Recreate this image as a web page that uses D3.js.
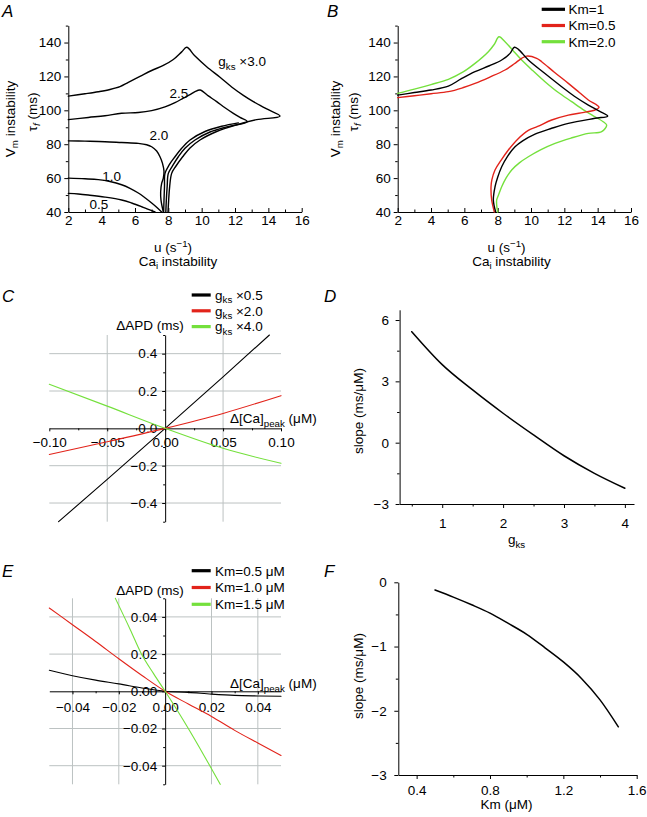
<!DOCTYPE html>
<html><head><meta charset="utf-8">
<script src="https://cdn.jsdelivr.net/npm/d3@7"></script>
<style>body{margin:0;background:#fff}</style>
</head><body><svg id="c" width="647" height="817"></svg>
<script>
// ---------------- DATA ----------------
// Panel A: stability boundaries (u, tau_f) for gks multipliers
const aCurve30 = [[2,108.4],[3,109.8],[3.8,111],[4.5,112.3],[5.1,114],[5.6,116.5],[6.3,120],[7,123.5],[7.7,126.5],[8.3,130],[8.8,134.5],[9.1,137.2],[9.6,132],[10.3,125.7],[11.1,119.5],[11.9,113],[12.5,108.8],[13.1,105.1],[13.9,100.8],[14.7,96.6],[13.3,94.5],[12.0,91.2],[10.9,87.5],[9.9,82.5],[9.3,77.8],[8.86,72.6],[8.45,67],[8.2,62.8],[8.08,55],[8.02,47],[7.98,40]];
const aCurve25 = [[2,94.5],[3.2,95.8],[4.2,96.8],[5.2,98.3],[6.2,98.7],[7.0,99.8],[7.8,102],[8.4,104.5],[8.9,107.2],[9.3,109.3],[9.6,111],[9.9,112],[10.4,108.5],[10.9,105.1],[11.4,101.5],[11.9,98.2],[12.3,95.8],[12.74,93.3],[11.5,90.2],[10.5,87.2],[9.6,82.5],[9.0,77.6],[8.6,72.6],[8.25,67.2],[8.0,62.8],[7.93,55],[7.88,47],[7.85,40]];
const aCurve20L = [[2,82],[3,81.8],[4.2,81.5],[5.2,81],[6.2,80.5],[6.7,79.7],[7.0,78.5],[7.3,76],[7.5,72.6],[7.65,68.7],[7.74,64],[7.7,60],[7.6,56.9],[7.54,52],[7.56,47],[7.7,40]];
const aCurve20R = [[7.72,40],[7.74,47],[7.77,55],[7.8,62.8],[8.05,67.8],[8.4,72.6],[8.8,77.6],[9.3,82.5],[10.2,87.5],[11.2,90.6],[12.2,92.6]];
const aCurve10 = [[2,60],[3,59.6],[3.8,59.1],[4.5,58],[5.2,56.1],[5.7,54],[6.2,51.2],[6.6,48.4],[7.0,45.3],[7.3,42.8],[7.6,40]];
const aCurve05 = [[2,51],[2.6,50.6],[3.2,50],[4.2,48.8],[5.2,47.1],[5.8,45.3],[6.4,43.1],[6.8,41.5],[7.2,40]];
const aLabels = ["3.0","2.5","2.0","1.0","0.5"];

// Panel B: boundaries for different Km
const bKm1 = [[2,109],[3,110.5],[4,112],[5.04,114.3],[5.8,118.5],[6.64,122.8],[7.5,126.3],[8.24,129.7],[8.74,133.6],[9.0,137.2],[9.24,136],[9.84,129.7],[10.8,122],[11.84,113.9],[12.6,108.3],[13.44,103.1],[14.1,99.5],[14.6,96.6],[13.84,95.3],[12.24,92.3],[11.24,89.4],[10.24,86.0],[9.5,82],[9.04,78.5],[8.6,73],[8.24,66.7],[8.0,60.5],[7.84,54.9],[7.74,47.1],[7.88,40]];
const bKm05 = [[2,107.5],[3,108.6],[4,109.8],[5.04,111],[5.9,113.3],[6.64,115.9],[7.5,119.5],[8.44,123.8],[9.0,127.5],[9.44,130.7],[9.74,132],[10.34,130.7],[10.64,128.7],[11.4,122.5],[12.24,115.9],[12.9,110.5],[13.44,106.1],[14.08,101.8],[13.84,100.2],[13.0,98.5],[12.24,97.2],[11.24,94.3],[10.4,90.5],[9.84,88.2],[9.2,83],[8.64,76.6],[8.2,70.5],[7.84,64.8],[7.65,59],[7.6,54.9],[7.64,47.1],[7.8,40]];
const bKm20 = [[2,110],[3,112.5],[4,115.2],[5.04,118.3],[5.9,122.5],[6.64,127.7],[7.44,134.6],[7.8,139],[8.08,143.4],[8.44,140.5],[8.9,135.5],[9.44,129.7],[10.1,123.5],[10.84,116.9],[11.6,110.8],[12.44,105.1],[13.2,100],[13.84,96.2],[14.33,93.3],[14.54,91.3],[14.24,87.4],[13.44,86.4],[12.4,83.6],[11.44,80.5],[10.6,76.8],[9.84,72.6],[9.3,69],[8.84,64.8],[8.5,60],[8.24,54.9],[8.05,50],[7.94,47.1],[7.95,43],[8.0,40]];
const bLegend = ["Km=1","Km=0.5","Km=2.0"];

// Panel C: dAPD vs d[Ca]peak
const cBlack = [[-0.092,-0.5],[-0.05,-0.273],[0,0],[0.05,0.276],[0.09,0.5]];
const cRed   = [[-0.1,-0.14],[-0.05,-0.072],[0,0],[0.05,0.08],[0.1,0.175]];
const cGreen = [[-0.1,0.236],[-0.05,0.119],[0,0],[0.05,-0.107],[0.1,-0.187]];
const cLegend = ["0.5","2.0","4.0"];

// Panel D: slope vs gks
const dGks   = [0.5,1,1.5,2,2.5,3,3.5,4];
const dSlope = [5.43,3.82,2.58,1.44,0.38,-0.64,-1.50,-2.23];

// Panel E: dAPD vs d[Ca]peak for Km
const eBlack = [[-0.05,0.0113],[-0.04,0.0084],[-0.03,0.006],[-0.02,0.004],[-0.01,0.0018],[0,0],[0.01,-0.0006],[0.02,-0.0015],[0.03,-0.0022],[0.04,-0.0025],[0.05,-0.0027]];
const eRed   = [[-0.05,0.0448],[-0.04,0.0358],[-0.03,0.0268],[-0.02,0.0175],[-0.01,0.0085],[0,0],[0.01,-0.0068],[0.02,-0.0135],[0.03,-0.021],[0.04,-0.0278],[0.05,-0.0345]];
const eGreen = [[-0.0215,0.05],[-0.015,0.033],[-0.0104,0.0205],[-0.005,0.0095],[0,0],[0.005,-0.0098],[0.01,-0.02],[0.017,-0.035],[0.0238,-0.05]];
const eLegend = ["Km=0.5 μM","Km=1.0 μM","Km=1.5 μM"];

// Panel F: slope vs Km
const fKm    = [0.5,0.6,0.7,0.8,0.9,1.0,1.1,1.2,1.3,1.4,1.5];
const fSlope = [-0.12,-0.23,-0.35,-0.48,-0.64,-0.81,-1.02,-1.24,-1.50,-1.83,-2.25];

// Ticks
const abXTicks=[2,4,6,8,10,12,14,16], abXMinor=[3,5,7,9,11,13,15];
const abYTicks=[40,60,80,100,120,140], abYMinor=[50,70,90,110,130,150];
const cXTicks=[-0.1,-0.05,0,0.05,0.1], cXMinor=[-0.075,-0.025,0.025,0.075];
const cYTicks=[-0.4,-0.2,0,0.2,0.4], cYMinor=[-0.5,-0.3,-0.1,0.1,0.3,0.5];
const dXTicks=[1,2,3,4], dXMinor=[0.5,1.5,2.5,3.5];
const dYTicks=[-3,0,3,6], dYMinor=[-1.5,1.5,4.5];
const eXTicks=[-0.04,-0.02,0,0.02,0.04], eXMinor=[-0.03,-0.01,0.01,0.03];
const eYTicks=[-0.04,-0.02,0,0.02,0.04], eYMinor=[-0.05,-0.03,-0.01,0.01,0.03,0.05];
const fXTicks=[0.4,0.8,1.2,1.6], fXMinor=[0.6,1.0,1.4];
const fYTicks=[-3,-2,-1,0], fYMinor=[-2.5,-1.5,-0.5];

const COLORS = ["#000000","#e2231a","#74e03c"];

// ---------------- DRAW ----------------
const FONT='"Liberation Sans", Arial, Helvetica, sans-serif';
const FS=13.5;
const svg=d3.select("#c");
svg.append("rect").attr("width",647).attr("height",817).attr("fill","#fff");

function styleAxis(g){
  g.attr("font-family",FONT).attr("font-size",FS);
  g.selectAll("path,line").attr("stroke","#000").attr("stroke-width",1);
  g.selectAll("text").attr("fill","#000");
  return g;
}
function addAxis(gen,tx,ty,minor){
  const g=svg.append("g").attr("transform",`translate(${tx},${ty})`).call(gen);
  if(minor) g.select(".domain").remove();
  return styleAxis(g);
}
function rich(x,y,parts,opts={}){
  const size=opts.size||FS;
  const t=svg.append("text").attr("x",x).attr("y",y).attr("font-family",FONT)
    .attr("font-size",size).attr("text-anchor",opts.anchor||"start").attr("fill","#000");
  if(opts.rotate) t.attr("transform",`rotate(-90,${x},${y})`);
  if(opts.italic) t.attr("font-style","italic");
  let shift=0;
  parts.forEach(p=>{
    const [s,kind,ital]=(typeof p==="string")?[p,null,false]:p;
    const ts=t.append("tspan").text(s);
    const target=kind==="sub"?3.5:kind==="sup"?-5:0;
    const dy=target-shift; if(dy!==0) ts.attr("dy",dy); shift=target;
    if(kind) ts.attr("font-size",size*0.72);
    if(ital) ts.attr("font-style","italic");
  });
  return t;
}
function drawPath(data,x,y,color,w,curve){
  svg.append("path").datum(data)
    .attr("d",d3.line().x(d=>x(d[0])).y(d=>y(d[1])).curve(curve||d3.curveLinear))
    .attr("fill","none").attr("stroke",color).attr("stroke-width",w)
    .attr("stroke-linejoin","round").attr("stroke-linecap","round");
}
const CR=d3.curveCatmullRom.alpha(0.5);

// ---- Panel A ----
const xA=d3.scaleLinear([2,16],[68.3,301.7]);
const yA=d3.scaleLinear([40,150],[212,25.6]);
function abAxes(x,y){
  addAxis(d3.axisBottom(x).tickValues(abXTicks).tickSize(-4).tickPadding(3).tickSizeOuter(0),0,y(40));
  addAxis(d3.axisBottom(x).tickValues(abXMinor).tickSize(-2.5).tickFormat(""),0,y(40),true);
  addAxis(d3.axisLeft(y).tickValues(abYTicks).tickSize(4).tickPadding(3).tickSizeOuter(0),x(2),0);
  addAxis(d3.axisLeft(y).tickValues(abYMinor).tickSize(2.5).tickFormat(""),x(2),0,true);
}
abAxes(xA,yA);
[aCurve30,aCurve25,aCurve20L,aCurve20R,aCurve10,aCurve05].forEach(c=>drawPath(c,xA,yA,"#000",1.4,CR));
rich(xA(11.0),yA(126),[["g"],["ks","sub"],[" ×"+aLabels[0]]]);
rich(xA(8.64),yA(107),[aLabels[1]],{anchor:"middle"});
rich(xA(7.44),yA(82.3),[aLabels[2]],{anchor:"middle"});
rich(xA(4.6),yA(58.5),[aLabels[3]],{anchor:"middle"});
rich(xA(3.84),yA(42),[aLabels[4]],{anchor:"middle"});
function abLabels(x0,yl1,yl2){
  rich(yl1,119,[["V"],["m","sub"],[" instability"]],{anchor:"middle",rotate:true});
  rich(yl2,112,[["τ"],["f","sub",true],[" (ms)"]],{anchor:"middle",rotate:true});
  rich(x0,251.5,[["u (s"],["−1","sup"],[")"]],{anchor:"middle"});
  rich(x0+5,265.5,[["Ca"],["i","sub"],[" instability"]],{anchor:"middle"});
}
abLabels(173,14.5,36.5);
rich(2,16.7,["A"],{size:17,italic:true});

// ---- Panel B ----
const xB=d3.scaleLinear([2,16],[397.7,631]);
const yB=d3.scaleLinear([40,150],[212,25.6]);
abAxes(xB,yB);
[[bKm20,2],[bKm05,1],[bKm1,0]].forEach(([c,i])=>drawPath(c,xB,yB,COLORS[i],1.4,CR));
bLegend.forEach((s,i)=>{
  const yy=9.3+i*16.2;
  svg.append("line").attr("x1",541.7).attr("x2",565).attr("y1",yy).attr("y2",yy).attr("stroke",COLORS[i]).attr("stroke-width",3.2);
  rich(568.5,yy+4.8,[s]);
});
abLabels(506.5,339.5,357.5);
rich(327,16.7,["B"],{size:17,italic:true});

// ---- Panel C ----
const xC=d3.scaleLinear([-0.1,0.1],[49.3,281]);
const yC=d3.scaleLinear([-0.5,0.5],[521.7,335]);
const GRID="#bcc2c2";
[-0.4,-0.2,0.2,0.4].forEach(v=>svg.append("line").attr("x1",xC(-0.1)).attr("x2",xC(0.1)).attr("y1",yC(v)).attr("y2",yC(v)).attr("stroke",GRID).attr("stroke-width",1));
[-0.05,0.05].forEach(v=>svg.append("line").attr("x1",xC(v)).attr("x2",xC(v)).attr("y1",yC(0.5)).attr("y2",yC(-0.5)).attr("stroke",GRID).attr("stroke-width",1));
addAxis(d3.axisBottom(xC).tickValues(cXTicks).tickSize(3).tickPadding(6.5).tickSizeOuter(0).tickFormat(d3.format(".2f")),0,yC(0));
addAxis(d3.axisBottom(xC).tickValues(cXMinor).tickSize(2).tickFormat(""),0,yC(0),true);
addAxis(d3.axisLeft(yC).tickValues(cYTicks).tickSize(3).tickPadding(5).tickSizeOuter(0).tickFormat(d3.format(".1f")),xC(0),0);
addAxis(d3.axisLeft(yC).tickValues(cYMinor).tickSize(2).tickFormat(""),xC(0),0,true);
rich(150,329.5,["ΔAPD (ms)"],{anchor:"middle"});
rich(230,423,[["Δ[Ca]"],["peak","sub"],[" (μM)"]]);
[[cBlack,0],[cRed,1],[cGreen,2]].forEach(([c,i])=>drawPath(c,xC,yC,COLORS[i],1.1,d3.curveMonotoneX));
cLegend.forEach((s,i)=>{
  const yy=295+i*15.8;
  svg.append("line").attr("x1",191.7).attr("x2",210.7).attr("y1",yy).attr("y2",yy).attr("stroke",COLORS[i]).attr("stroke-width",3.2);
  rich(215,yy+4.8,[["g"],["ks","sub"],[" ×"+s]]);
});
rich(2,301.7,["C"],{size:17,italic:true});

// ---- Panel D ----
const xD=d3.scaleLinear([0.3,4.15],[399.6,634]);
const yD=d3.scaleLinear([-3,6.5],[504,309.8]);
addAxis(d3.axisBottom(xD).tickValues(dXTicks).tickSize(4).tickPadding(10).tickSizeOuter(0).tickFormat(d3.format("d")),0,yD(-3));
addAxis(d3.axisBottom(xD).tickValues(dXMinor).tickSize(2.5).tickFormat(""),0,yD(-3),true);
addAxis(d3.axisLeft(yD).tickValues(dYTicks).tickSize(4).tickPadding(6.7).tickSizeOuter(0).tickFormat(d3.format("d")),xD(0.3),0);
addAxis(d3.axisLeft(yD).tickValues(dYMinor).tickSize(2.5).tickFormat(""),xD(0.3),0,true);
drawPath(dGks.map((g,i)=>[g,dSlope[i]]),xD,yD,"#000",1.5,d3.curveMonotoneX);
rich(362.5,411,["slope (ms/μM)"],{anchor:"middle",rotate:true});
rich(516.5,544,[["g"],["ks","sub"]],{anchor:"middle"});
rich(324,301.7,["D"],{size:17,italic:true});

// ---- Panel E ----
const xE=d3.scaleLinear([-0.05,0.05],[49.3,281]);
const yE=d3.scaleLinear([-0.05,0.05],[784.3,598.3]);
[-0.04,-0.02,0.02,0.04].forEach(v=>svg.append("line").attr("x1",xE(-0.05)).attr("x2",xE(0.05)).attr("y1",yE(v)).attr("y2",yE(v)).attr("stroke",GRID).attr("stroke-width",1));
[-0.04,-0.02,0.02,0.04].forEach(v=>svg.append("line").attr("x1",xE(v)).attr("x2",xE(v)).attr("y1",yE(0.05)).attr("y2",yE(-0.05)).attr("stroke",GRID).attr("stroke-width",1));
addAxis(d3.axisBottom(xE).tickValues(eXTicks).tickSize(3).tickPadding(8).tickSizeOuter(0).tickFormat(d3.format(".2f")),0,yE(0));
addAxis(d3.axisBottom(xE).tickValues(eXMinor).tickSize(2).tickFormat(""),0,yE(0),true);
addAxis(d3.axisLeft(yE).tickValues(eYTicks).tickSize(3).tickPadding(5).tickSizeOuter(0).tickFormat(d3.format(".2f")),xE(0),0);
addAxis(d3.axisLeft(yE).tickValues(eYMinor).tickSize(2).tickFormat(""),xE(0),0,true);
rich(150,594.5,["ΔAPD (ms)"],{anchor:"middle"});
rich(230,688,[["Δ[Ca]"],["peak","sub"],[" (μM)"]]);
[[eBlack,0],[eRed,1],[eGreen,2]].forEach(([c,i])=>drawPath(c,xE,yE,COLORS[i],1.1,d3.curveMonotoneX));
eLegend.forEach((s,i)=>{
  const yy=570.7+i*16.8;
  svg.append("line").attr("x1",191.7).attr("x2",210.7).attr("y1",yy).attr("y2",yy).attr("stroke",COLORS[i]).attr("stroke-width",3.2);
  rich(215,yy+4.8,[s]);
});
rich(2,576.7,["E"],{size:17,italic:true});

// ---- Panel F ----
const xF=d3.scaleLinear([0.3,1.6],[398.3,636.7]);
const yF=d3.scaleLinear([-3,0],[775,582.3]);
addAxis(d3.axisBottom(xF).tickValues(fXTicks).tickSize(4).tickPadding(6).tickSizeOuter(0).tickFormat(d3.format(".1f")),0,yF(-3));
addAxis(d3.axisBottom(xF).tickValues(fXMinor).tickSize(2.5).tickFormat(""),0,yF(-3),true);
addAxis(d3.axisLeft(yF).tickValues(fYTicks).tickSize(4).tickPadding(7.6).tickSizeOuter(0).tickFormat(d3.format("d")),xF(0.3),0);
addAxis(d3.axisLeft(yF).tickValues(fYMinor).tickSize(2.5).tickFormat(""),xF(0.3),0,true);
drawPath(fKm.map((k,i)=>[k,fSlope[i]]),xF,yF,"#000",1.5,d3.curveMonotoneX);
rich(362.5,676,["slope (ms/μM)"],{anchor:"middle",rotate:true});
rich(506.5,809,["Km (μM)"],{anchor:"middle"});
rich(324,576.7,["F"],{size:17,italic:true});
</script></body></html>
